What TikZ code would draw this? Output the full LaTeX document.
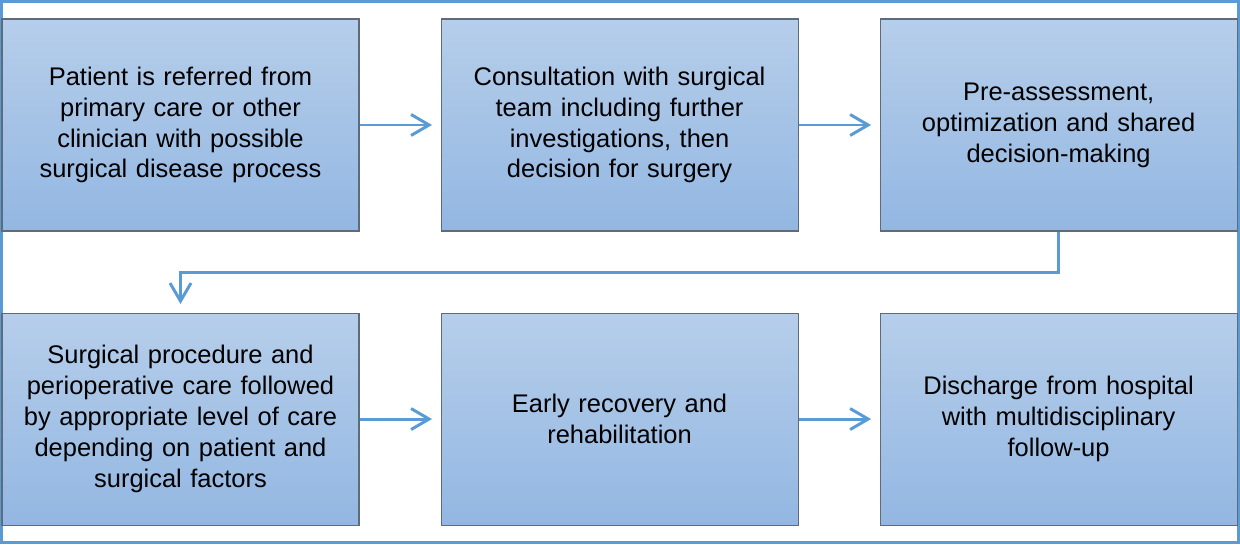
\documentclass[tikz,border=0pt]{standalone}
\usepackage{fontspec}
\setmainfont{Liberation Sans}
\usepackage{tikz}
\usetikzlibrary{positioning,calc,arrows.meta}

\definecolor{flowblue}{HTML}{5B9BD5}
\definecolor{boxtop}{HTML}{B6CEEA}
\definecolor{boxbottom}{HTML}{93B7E2}
\definecolor{boxline}{HTML}{5F6B78}

\tikzset{
	stepbox/.style={draw=boxline, line width=0.6pt, top color=boxtop, bottom color=boxbottom,
		minimum width=7.14cm, minimum height=4.24cm, text width=6.9cm, align=center,
		inner sep=0pt, font=\fontsize{14.5}{17.6}\selectfont},
	flow/.style={draw=flowblue, line width=1.7pt,
		-{Straight Barb[length=0.36cm, width=0.42cm, line width=1.7pt]}, shorten >=0.17cm}
}

\begin{document}
\begin{tikzpicture}[node distance=1.62cm]
			          %frame round the whole chart
			          \useasboundingbox (0,0) rectangle (24.8,10.88);
			          \draw[flowblue, line width=1.7pt] (0.03,0.03) rectangle (24.77,10.85);
			          
			          %first row
			          \node[stepbox] (referral) at (3.61,8.38) {Patient is referred from\\ primary care or other\\ clinician with possible\\ surgical disease process};
			          \node[stepbox, right=of referral] (consult) {Consultation with surgical\\ team including further\\ investigations, then\\ decision for surgery};
			          \node[stepbox, right=of consult] (preassess) {Pre-assessment,\\ optimization and shared\\ decision-making};
			          
			          %second row
			          \node[stepbox, below=of referral] (surgery) {Surgical procedure and\\ perioperative care followed\\ by appropriate level of care\\ depending on patient and\\ surgical factors};
			          \node[stepbox, right=of surgery] (recovery) {Early recovery and\\ rehabilitation};
			          \node[stepbox, right=of recovery] (discharge) {Discharge from hospital\\ with multidisciplinary\\ follow-up};
			          
			          \coordinate (turn) at ($(preassess.south)!.5!(discharge.north)$);
			          \draw[flow] (referral) -- (consult);
			          \draw[flow] (consult) -- (preassess);
			          \draw[flow] (preassess.south) -- (turn) -| (surgery.north);
			          \draw[flow] (surgery) -- (recovery);
			          \draw[flow] (recovery) -- (discharge);
				  \end{tikzpicture}
\end{document}
